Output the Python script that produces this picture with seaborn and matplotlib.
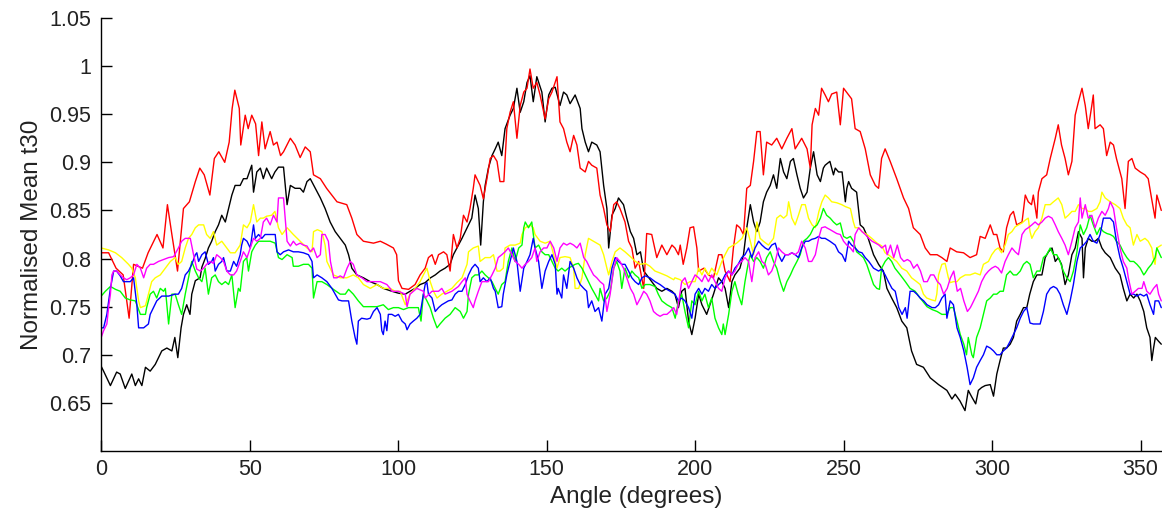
import matplotlib
matplotlib.use("Agg")
import matplotlib.pyplot as plt
import seaborn as sns
import pandas as pd

# (angle in degrees, normalised mean t30)
red_pts = [(0,0.806),(2.5,0.806),(5,0.790),(7.4,0.783),(9.4,0.738),(10.9,0.794),(13.9,0.790),(15.8,0.806),(18.8,0.825),(20.8,0.811),(22.3,0.856),(23.8,0.825),(25.7,0.787),(27.7,0.852),(29.7,0.859),(31.7,0.880),(33.2,0.894),(34.7,0.887),(36.6,0.866),(38.1,0.904),(39.6,0.911),(41.6,0.900),(43.1,0.921),(44.1,0.956),(45,0.975),(46.5,0.956),(47,0.918),(48.5,0.949),(49.5,0.935),(50.7,0.949),(52,0.940),(53,0.907),(54.1,0.942),(55.2,0.914),(56.9,0.932),(58,0.918),(59.2,0.921),(60.4,0.907),(61.4,0.911),(63.7,0.925),(65.3,0.918),(67,0.905),(68.7,0.916),(70.4,0.911),(71.5,0.887),(73.8,0.883),(75.9,0.873),(79.4,0.859),(82.7,0.856),(84.4,0.842),(86.1,0.825),(88.3,0.818),(91.7,0.816),(94,0.818),(96,0.815),(98.4,0.811),(99.5,0.804),(100.1,0.777),(101.3,0.769),(103.5,0.768),(105.7,0.773),(107.4,0.783),(109.1,0.790),(110.2,0.801),(111.4,0.804),(112.5,0.794),(113.6,0.804),(115.3,0.807),(116.4,0.804),(117.5,0.787),(118.6,0.825),(119.8,0.811),(120.9,0.821),(122,0.845),(123.2,0.838),(124.2,0.852),(125.3,0.873),(125.9,0.887),(127.6,0.876),(128.7,0.862),(129.9,0.883),(131,0.904),(132.1,0.907),(133.3,0.901),(134.3,0.880),(135.6,0.880),(136.6,0.935),(137.7,0.952),(138.8,0.963),(140,0.925),(141.1,0.959),(142.3,0.973),(143.4,0.977),(144.4,0.997),(145.5,0.977),(146.7,0.983),(147.8,0.970),(149.5,0.945),(150.7,0.966),(151.8,0.973),(153.5,0.989),(154.5,0.942),(155.7,0.935),(156.8,0.921),(157.9,0.911),(159.1,0.928),(160.2,0.918),(161.3,0.894),(163,0.890),(164.1,0.901),(165.2,0.897),(166.9,0.894),(168,0.866),(169.2,0.852),(170.3,0.835),(171.4,0.828),(172.6,0.856),(173.6,0.859),(174.7,0.852),(176.4,0.838),(177.6,0.818),(178.7,0.811),(179.8,0.790),(181,0.797),(182.7,0.769),(183.7,0.826),(185.4,0.825),(187.1,0.801),(188.8,0.814),(190.5,0.804),(192.2,0.814),(193.2,0.811),(194.4,0.804),(195,0.814),(196,0.794),(197.2,0.811),(198.3,0.832),(199.5,0.833),(200.6,0.811),(201.2,0.787),(203,0.790),(204.5,0.783),(206.2,0.780),(207.9,0.804),(209,0.804),(210.1,0.787),(211.8,0.776),(212.9,0.811),(214,0.835),(215.1,0.832),(216.3,0.825),(217.4,0.873),(218.6,0.876),(219.7,0.901),(220.8,0.932),(221.9,0.932),(223,0.887),(224.1,0.921),(225.8,0.918),(227.5,0.925),(229.2,0.914),(230.9,0.925),(232.6,0.935),(233.7,0.914),(235.9,0.925),(237.7,0.914),(238.8,0.894),(239.4,0.939),(240.5,0.956),(241.6,0.949),(242.6,0.977),(243.8,0.970),(244.9,0.963),(246,0.971),(247.7,0.973),(248.9,0.939),(250,0.977),(251.7,0.970),(252.7,0.966),(253.9,0.935),(255.6,0.932),(257.3,0.914),(259,0.887),(260.7,0.876),(261.8,0.873),(262.8,0.904),(264,0.914),(265.7,0.901),(267.9,0.883),(270.2,0.863),(271.9,0.852),(273.5,0.832),(275.8,0.825),(277.5,0.811),(279.2,0.804),(281.5,0.804),(283.1,0.801),(284.8,0.797),(285.9,0.811),(288.1,0.807),(290.4,0.806),(292.6,0.801),(294.8,0.804),(296,0.823),(297.7,0.821),(299.4,0.835),(300.5,0.825),(301.6,0.825),(302.7,0.811),(303.8,0.807),(304.9,0.832),(306.1,0.845),(307.2,0.849),(308.3,0.835),(310.1,0.838),(311.2,0.866),(312.2,0.859),(313.3,0.856),(313.9,0.866),(315.1,0.842),(315.6,0.869),(316.8,0.883),(318.4,0.887),(319.6,0.904),(321.3,0.925),(322.3,0.939),(323.4,0.918),(324.6,0.904),(325.7,0.887),(326.9,0.901),(328,0.949),(329.1,0.963),(330.3,0.977),(331.4,0.959),(332.4,0.935),(333.6,0.959),(334.1,0.970),(334.7,0.935),(336.4,0.939),(337.5,0.935),(338.6,0.907),(339.8,0.921),(340.9,0.918),(341.9,0.904),(343.7,0.883),(344.8,0.852),(345.9,0.901),(347.1,0.904),(348.2,0.894),(349.9,0.890),(351.5,0.887),(352.6,0.883),(353.7,0.863),(354.9,0.842),(355.5,0.866),(357,0.850)]

black_pts = [(0,0.688),(0.8,0.683),(3.1,0.668),(5.2,0.682),(6.4,0.680),(8.1,0.665),(10.3,0.680),(11.5,0.668),(12.6,0.675),(13.7,0.668),(14.9,0.687),(16.5,0.683),(18.2,0.690),(20.4,0.704),(22.1,0.707),(23.8,0.704),(24.8,0.718),(25.8,0.697),(26.9,0.728),(27.7,0.742),(28.8,0.752),(29.9,0.742),(30.5,0.763),(31.7,0.777),(33.3,0.780),(33.9,0.791),(35,0.800),(36.1,0.811),(37.2,0.818),(38.4,0.828),(39.5,0.835),(40.6,0.845),(41.8,0.838),(42.9,0.852),(44,0.866),(45.1,0.876),(46.8,0.876),(47.9,0.883),(49.1,0.883),(50.7,0.897),(51.3,0.869),(52.4,0.890),(53.6,0.894),(54.6,0.883),(55.7,0.894),(57.4,0.883),(58.5,0.890),(59.7,0.895),(61.4,0.895),(62.6,0.856),(63.7,0.876),(65.3,0.873),(67,0.873),(68.1,0.869),(69.3,0.880),(70.4,0.883),(72.1,0.873),(73.8,0.863),(75.4,0.852),(77.1,0.838),(78.8,0.828),(80.5,0.821),(82.2,0.814),(83.3,0.804),(84.4,0.790),(86.1,0.783),(88.3,0.780),(90.6,0.776),(92.9,0.773),(95,0.769),(97.9,0.766),(100.1,0.764),(102.4,0.763),(104,0.766),(105.7,0.769),(107.4,0.773),(109.1,0.775),(110.9,0.780),(112.5,0.783),(114.1,0.787),(115.8,0.790),(117.5,0.794),(118.6,0.804),(119.8,0.811),(121.5,0.821),(122.6,0.828),(123.7,0.835),(124.8,0.842),(125.9,0.866),(127,0.852),(127.8,0.814),(128.7,0.859),(129.3,0.876),(130.4,0.894),(131.6,0.907),(132.7,0.914),(133.7,0.921),(134.9,0.907),(136,0.935),(137.7,0.949),(138.8,0.956),(140,0.977),(141.1,0.952),(142.3,0.963),(143.4,0.983),(144.4,0.990),(145.5,0.963),(146.7,0.989),(148.4,0.973),(149.5,0.942),(150.7,0.970),(151.8,0.977),(152.9,0.978),(154.5,0.959),(155.7,0.973),(156.8,0.970),(157.9,0.961),(159.6,0.970),(161.3,0.956),(161.9,0.935),(163,0.921),(164.1,0.911),(165.2,0.921),(166.9,0.918),(168,0.911),(169.2,0.876),(170.3,0.852),(170.9,0.811),(172,0.845),(173.1,0.852),(174.2,0.863),(175.9,0.856),(177,0.842),(178.2,0.828),(179.3,0.821),(180.4,0.804),(181.6,0.807),(182.7,0.787),(183.7,0.783),(185.4,0.776),(187.1,0.769),(188.8,0.766),(190.5,0.769),(192.2,0.766),(193.2,0.763),(194.4,0.749),(195.5,0.766),(196.6,0.769),(197.8,0.735),(198.9,0.721),(200,0.738),(201.2,0.763),(202.3,0.752),(203.9,0.742),(205,0.752),(206.2,0.763),(207.9,0.780),(209,0.776),(210.1,0.769),(211.3,0.749),(212.4,0.776),(213.4,0.783),(215.1,0.790),(216.3,0.804),(217.4,0.832),(218.6,0.856),(219.7,0.838),(220.8,0.828),(221.9,0.838),(223,0.859),(224.1,0.869),(225.3,0.876),(226.4,0.887),(227.5,0.873),(228.7,0.904),(229.8,0.890),(230.9,0.883),(232.1,0.901),(233.1,0.904),(234.3,0.887),(235.4,0.873),(236.5,0.863),(237.7,0.869),(238.8,0.894),(239.9,0.911),(241.1,0.887),(242.2,0.880),(243.2,0.894),(243.8,0.897),(245.4,0.901),(246.6,0.887),(247.2,0.894),(248.3,0.890),(249.5,0.890),(250.6,0.859),(251.1,0.873),(251.7,0.880),(252.7,0.873),(254.4,0.869),(255.6,0.835),(256.7,0.832),(258.3,0.821),(260.1,0.804),(261.8,0.794),(263.4,0.787),(264.6,0.769),(266.2,0.759),(267.9,0.749),(269.6,0.735),(271.3,0.728),(272.9,0.704),(274.6,0.690),(276.9,0.687),(279.2,0.676),(282,0.669),(284.8,0.663),(286.5,0.654),(287.6,0.659),(289.2,0.652),(290.9,0.642),(292,0.663),(293.2,0.656),(294.5,0.649),(295.4,0.663),(296.5,0.666),(297.7,0.668),(299.4,0.669),(300.5,0.657),(301.6,0.680),(302.7,0.694),(303.8,0.707),(304.9,0.707),(306.1,0.711),(307.2,0.718),(308.3,0.735),(309.5,0.742),(310.6,0.749),(311.7,0.749),(312.7,0.763),(313.9,0.776),(315.1,0.783),(316.8,0.783),(317.9,0.801),(319,0.807),(320.2,0.811),(321.3,0.797),(322.3,0.801),(323.4,0.794),(324.6,0.773),(325.7,0.783),(326.9,0.804),(328,0.811),(329.1,0.828),(330.3,0.821),(330.8,0.780),(331.4,0.811),(332.4,0.821),(333.6,0.818),(334.7,0.818),(335.8,0.821),(337,0.811),(338.1,0.806),(339.8,0.801),(341.5,0.790),(343.1,0.783),(344.2,0.769),(345.4,0.756),(346.5,0.763),(347.7,0.759),(348.8,0.763),(349.9,0.756),(351.1,0.745),(352.1,0.728),(353.2,0.718),(353.8,0.694),(354.4,0.707),(355,0.718),(356.1,0.714),(357,0.711)]

yellow_pts = [(0,0.811),(2.5,0.809),(4.8,0.806),(6.9,0.801),(9.2,0.794),(10.3,0.790),(11.5,0.780),(12.6,0.756),(13.2,0.749),(14.9,0.751),(15.9,0.763),(17,0.776),(18.2,0.780),(19.9,0.783),(21.6,0.790),(23.3,0.797),(24.9,0.801),(26,0.794),(27.1,0.797),(28.3,0.811),(29.4,0.821),(30.5,0.825),(31.7,0.832),(32.8,0.835),(34.5,0.835),(35.5,0.825),(36.7,0.821),(37.8,0.828),(38.9,0.814),(40.6,0.818),(42.3,0.811),(43.5,0.806),(45.1,0.806),(46.8,0.814),(47.9,0.835),(49.1,0.832),(50.2,0.838),(51.3,0.856),(52.4,0.838),(53.6,0.842),(54.6,0.842),(55.7,0.844),(57.4,0.845),(58.5,0.849),(59.7,0.832),(60.9,0.825),(62.6,0.832),(64.7,0.825),(67,0.818),(69.3,0.811),(71,0.807),(71.5,0.828),(72.8,0.830),(74.3,0.828),(75.4,0.814),(76,0.797),(77.1,0.790),(78.2,0.783),(80.5,0.780),(82.7,0.780),(84.9,0.783),(86.6,0.780),(88.3,0.773),(90.6,0.769),(92.9,0.773),(95,0.769),(97.3,0.769),(99,0.766),(100.7,0.766),(102.4,0.752),(104,0.763),(105.7,0.769),(107.4,0.776),(108.5,0.783),(109.7,0.790),(110.8,0.776),(111.9,0.766),(113.1,0.759),(114.7,0.763),(116.4,0.766),(118.1,0.769),(119.8,0.775),(121.5,0.780),(123.2,0.794),(123.7,0.807),(125.3,0.811),(127,0.813),(127.6,0.797),(129.3,0.801),(131,0.801),(132.1,0.804),(133.3,0.787),(134.3,0.787),(135.4,0.790),(136,0.811),(137.7,0.814),(139.4,0.814),(141.1,0.816),(141.7,0.825),(142.8,0.832),(144.4,0.835),(145.5,0.832),(146.1,0.825),(147.8,0.818),(149.5,0.816),(151.2,0.818),(152.9,0.797),(153.5,0.790),(154.5,0.801),(156.2,0.802),(157.9,0.801),(159.1,0.790),(159.6,0.769),(160.8,0.769),(161.9,0.780),(163,0.804),(164.1,0.821),(165.8,0.818),(166.9,0.816),(168,0.814),(169.2,0.804),(170.3,0.790),(170.9,0.783),(172,0.797),(173.1,0.807),(174.7,0.811),(176.4,0.807),(178.2,0.802),(179.9,0.797),(181.6,0.794),(183.2,0.795),(184.8,0.792),(186.5,0.787),(188.2,0.785),(190.5,0.782),(192.8,0.778),(193.2,0.780),(195,0.778),(196.6,0.773),(198.3,0.776),(200,0.776),(201.2,0.790),(202.3,0.783),(203.3,0.790),(204.5,0.783),(205.6,0.790),(207.3,0.783),(209,0.797),(210.1,0.804),(211.3,0.811),(212.9,0.814),(214,0.816),(215.8,0.821),(217.4,0.832),(218.6,0.818),(219.7,0.804),(220.8,0.838),(221.9,0.821),(223,0.818),(224.7,0.814),(226.4,0.821),(227.5,0.842),(228.7,0.845),(229.8,0.842),(230.9,0.845),(231.5,0.859),(232.6,0.842),(233.7,0.835),(234.8,0.845),(235.9,0.856),(237.1,0.856),(238.2,0.842),(239.4,0.835),(240.5,0.832),(241.7,0.849),(242.7,0.859),(243.8,0.866),(244.9,0.863),(246,0.859),(247.7,0.858),(249.4,0.856),(250.6,0.854),(252.3,0.852),(253.3,0.838),(253.9,0.832),(255.1,0.832),(256.2,0.828),(257.9,0.825),(259.5,0.821),(261.3,0.816),(262.9,0.813),(264,0.806),(265.1,0.804),(266.3,0.801),(267.9,0.797),(269.6,0.790),(271.3,0.787),(272.9,0.780),(274.6,0.776),(275.8,0.773),(276.9,0.763),(278,0.759),(279.7,0.757),(280.9,0.756),(281.4,0.763),(282,0.783),(283.1,0.794),(284.2,0.795),(285.3,0.780),(285.9,0.775),(287,0.776),(288.2,0.776),(289.3,0.780),(291,0.783),(292.6,0.783),(294.3,0.785),(296,0.783),(297.1,0.794),(298.8,0.797),(299.9,0.804),(301.1,0.809),(302.1,0.811),(303.2,0.806),(304.4,0.814),(305.5,0.825),(306.7,0.828),(307.8,0.833),(308.9,0.835),(310.1,0.837),(311.2,0.840),(312.2,0.842),(312.8,0.828),(313.4,0.821),(314.5,0.828),(315.6,0.832),(316.8,0.842),(317.9,0.856),(319.6,0.856),(320.7,0.859),(322.3,0.863),(323.5,0.856),(324.6,0.842),(325.7,0.845),(326.9,0.849),(328,0.849),(329.1,0.856),(330.3,0.852),(331.4,0.852),(332.4,0.849),(333.6,0.849),(335.3,0.852),(336.4,0.859),(337,0.869),(338.1,0.863),(339.8,0.859),(341.5,0.856),(343.1,0.852),(344.2,0.842),(345.4,0.835),(346.5,0.832),(347.6,0.814),(348.8,0.825),(349.9,0.818),(351.5,0.821),(352.6,0.818),(353.8,0.811),(354.3,0.801),(354.9,0.794),(355.5,0.811),(357,0.814)]

green_pts = [(0,0.761),(1.4,0.766),(3.1,0.771),(4.8,0.768),(6.4,0.766),(8.1,0.759),(9.8,0.757),(11.5,0.756),(13.2,0.742),(14.9,0.742),(15.3,0.749),(16.5,0.763),(17.6,0.766),(18.7,0.759),(19.9,0.769),(21,0.766),(21.6,0.769),(22.7,0.732),(23.8,0.763),(24.9,0.763),(26,0.752),(27.1,0.742),(28.3,0.763),(29.4,0.780),(30.5,0.797),(31.7,0.787),(32.8,0.780),(33.9,0.776),(35,0.790),(36.1,0.763),(37.2,0.780),(38.4,0.783),(39.5,0.776),(40.6,0.773),(41.8,0.776),(42.9,0.773),(44,0.783),(45.1,0.749),(46.2,0.769),(46.8,0.766),(47.9,0.797),(49,0.801),(49.6,0.787),(50.7,0.807),(51.9,0.814),(53,0.818),(54.6,0.818),(56.9,0.818),(58.6,0.816),(59.7,0.801),(60.9,0.799),(62.6,0.804),(64.3,0.801),(64.7,0.792),(66.4,0.792),(68.1,0.794),(69.8,0.794),(71,0.790),(71.5,0.759),(72.7,0.776),(74.3,0.776),(76,0.773),(78.2,0.768),(80.5,0.763),(82.2,0.763),(83.3,0.768),(84.9,0.763),(86.6,0.756),(88.3,0.750),(90.6,0.750),(92.9,0.750),(95,0.752),(96.7,0.747),(98.4,0.749),(100.1,0.749),(101.8,0.747),(103.5,0.749),(105.1,0.749),(106.8,0.749),(107.7,0.735),(108.5,0.763),(109.7,0.756),(110.8,0.749),(111.9,0.738),(113.1,0.728),(114.1,0.732),(115.8,0.738),(117.5,0.742),(119.2,0.749),(120.9,0.745),(122,0.738),(123.2,0.745),(123.7,0.763),(124.8,0.780),(125.9,0.783),(127,0.783),(128.2,0.787),(129.3,0.783),(130.4,0.780),(131.6,0.776),(132.7,0.769),(133.7,0.763),(134.9,0.773),(136,0.776),(137.1,0.797),(138.3,0.811),(139.4,0.797),(140.6,0.811),(141.7,0.814),(142.3,0.832),(142.8,0.838),(143.9,0.832),(145,0.838),(146.1,0.811),(147.3,0.814),(148.4,0.807),(149.5,0.804),(150.7,0.804),(151.8,0.797),(152.9,0.790),(153.9,0.787),(155.1,0.790),(156.2,0.787),(157.3,0.790),(158.5,0.792),(159.6,0.794),(160.7,0.795),(161.9,0.790),(163,0.783),(164.1,0.776),(165.2,0.769),(166.3,0.763),(167.5,0.756),(168,0.769),(169.2,0.756),(170.3,0.759),(171.4,0.766),(172.6,0.790),(173.6,0.797),(174.7,0.787),(175.3,0.769),(176.4,0.790),(177.6,0.780),(178.7,0.787),(179.8,0.783),(181,0.780),(182.1,0.769),(183.2,0.773),(184.8,0.773),(186.5,0.771),(187.6,0.763),(188.8,0.756),(190.5,0.752),(192.2,0.749),(193.3,0.738),(194.4,0.756),(195.5,0.763),(196.6,0.745),(197.8,0.728),(198.9,0.756),(200,0.752),(201.2,0.766),(202.3,0.756),(203.3,0.763),(204.5,0.749),(205.6,0.759),(206.7,0.738),(207.9,0.728),(209,0.721),(209.5,0.732),(210.1,0.721),(211.3,0.742),(212.4,0.766),(213.4,0.776),(214.5,0.763),(215.7,0.752),(216.8,0.776),(218,0.797),(218.6,0.804),(219.7,0.797),(220.8,0.801),(221.9,0.797),(223,0.790),(224.1,0.801),(225.3,0.807),(226.4,0.797),(227.5,0.790),(228.7,0.776),(229.8,0.766),(230.9,0.776),(232.1,0.783),(233.1,0.790),(234.3,0.797),(235.4,0.804),(236.5,0.818),(237.7,0.821),(238.8,0.825),(239.9,0.832),(241.1,0.835),(242.2,0.842),(243.2,0.852),(244.3,0.845),(245.5,0.842),(246.6,0.838),(247.7,0.835),(248.9,0.837),(250,0.823),(251.1,0.821),(252.3,0.823),(253.3,0.818),(254.4,0.807),(255.6,0.804),(256.7,0.801),(257.8,0.794),(259,0.783),(260.1,0.773),(261.2,0.769),(262.1,0.768),(262.8,0.790),(264,0.797),(265.1,0.801),(266.2,0.797),(267.3,0.790),(269.1,0.783),(270.8,0.776),(272.4,0.769),(274.1,0.766),(275.8,0.759),(278.1,0.750),(279.8,0.747),(281.5,0.745),(283.1,0.742),(284.8,0.742),(285.9,0.749),(287,0.749),(288.2,0.735),(289.3,0.721),(290.5,0.711),(291.4,0.700),(292,0.718),(293.2,0.700),(293.7,0.697),(294.8,0.718),(296,0.728),(297.1,0.742),(298.2,0.756),(299.4,0.759),(300.5,0.763),(301.6,0.763),(302.7,0.766),(303.8,0.766),(304.9,0.783),(306.1,0.787),(307.2,0.783),(308.3,0.783),(309.5,0.787),(310.6,0.794),(311.7,0.797),(312.8,0.794),(313.9,0.780),(315.1,0.787),(316.2,0.787),(317.3,0.801),(318.4,0.804),(319.6,0.811),(320.7,0.804),(321.8,0.804),(322.9,0.797),(324,0.787),(325.2,0.780),(326.3,0.776),(327.4,0.787),(328.6,0.807),(329.7,0.835),(330.8,0.825),(331.9,0.832),(333,0.845),(334.1,0.835),(335.3,0.825),(336.4,0.832),(337.5,0.828),(338.7,0.826),(339.8,0.825),(340.9,0.823),(341.9,0.818),(343.1,0.814),(344.2,0.807),(345.4,0.801),(346.5,0.797),(347.7,0.797),(348.8,0.794),(349.9,0.790),(351.1,0.783),(351.6,0.785),(352.6,0.790),(353.7,0.794),(354.9,0.801),(355.5,0.811),(357,0.801)]

blue_pts = [(0,0.728),(0.8,0.728),(1.9,0.742),(3.1,0.769),(4.2,0.787),(5.2,0.787),(6.4,0.782),(7.5,0.776),(8.6,0.776),(9.8,0.776),(10.9,0.780),(12,0.752),(12.6,0.728),(14.3,0.728),(15.9,0.732),(16.5,0.742),(17.6,0.749),(18.7,0.756),(20.4,0.761),(22.7,0.761),(24.9,0.763),(26,0.763),(27.1,0.769),(28.3,0.783),(29.4,0.787),(30.5,0.794),(31.7,0.804),(32.2,0.806),(32.8,0.797),(33.9,0.804),(35,0.807),(36.1,0.794),(37.2,0.797),(37.8,0.801),(38.4,0.787),(39.5,0.794),(40.6,0.797),(41.2,0.801),(42.3,0.787),(43.5,0.787),(44.6,0.797),(45.6,0.792),(46.8,0.804),(47.3,0.814),(47.9,0.821),(49.1,0.818),(50.2,0.811),(51.3,0.835),(51.9,0.821),(53,0.825),(54.1,0.821),(55.2,0.825),(56.9,0.825),(58.6,0.825),(59.2,0.807),(60.3,0.804),(61.4,0.807),(63.1,0.809),(64.7,0.807),(66.4,0.807),(68.1,0.806),(69.8,0.804),(71,0.797),(71.5,0.780),(72.7,0.783),(74.3,0.780),(76,0.776),(77.7,0.769),(78.8,0.763),(79.9,0.757),(81.1,0.756),(82.2,0.756),(83.3,0.756),(84.4,0.735),(85.5,0.718),(86.1,0.711),(86.6,0.735),(87.7,0.738),(89.5,0.737),(90.6,0.738),(91.7,0.745),(92.9,0.749),(94,0.742),(94.5,0.725),(95,0.721),(95.6,0.735),(96.2,0.725),(96.7,0.742),(97.9,0.742),(99,0.740),(100.1,0.742),(101.3,0.735),(102.4,0.732),(103,0.726),(104,0.732),(105.1,0.735),(106.3,0.738),(107.4,0.742),(108.5,0.763),(109.1,0.773),(109.7,0.775),(110.2,0.763),(111.4,0.759),(112.5,0.745),(113.6,0.749),(114.7,0.752),(115.8,0.754),(116.9,0.756),(118.1,0.757),(119.2,0.763),(120.3,0.766),(121.5,0.766),(122.6,0.773),(123.7,0.783),(124.8,0.790),(125.9,0.794),(127,0.790),(127.6,0.776),(128.7,0.780),(129.9,0.776),(131,0.780),(132.1,0.769),(132.7,0.766),(133.7,0.749),(134.9,0.750),(135.4,0.763),(136.6,0.783),(137.7,0.797),(138.8,0.811),(140,0.797),(141.1,0.766),(142.3,0.790),(143.4,0.797),(144.4,0.804),(145.5,0.821),(146.1,0.811),(147.3,0.797),(148.4,0.769),(149.5,0.787),(150.7,0.797),(151.8,0.804),(152.9,0.794),(153.5,0.763),(153.9,0.769),(155.1,0.759),(155.7,0.783),(156.8,0.769),(157.9,0.797),(159.1,0.790),(160.2,0.780),(161.3,0.773),(162.5,0.769),(163.5,0.766),(164.1,0.749),(165.2,0.756),(166.3,0.745),(167.5,0.749),(168.6,0.735),(169.7,0.763),(170.9,0.769),(172,0.790),(173.1,0.801),(174.2,0.797),(175.3,0.794),(176.4,0.794),(177.6,0.787),(178.7,0.780),(179.8,0.776),(181,0.773),(182.1,0.780),(183.2,0.782),(184.8,0.780),(186.5,0.776),(188.2,0.773),(189.9,0.769),(191.6,0.766),(193.2,0.763),(194.4,0.756),(195.5,0.759),(196.6,0.756),(197.8,0.749),(198.9,0.738),(200,0.763),(201.2,0.769),(202.3,0.763),(203.3,0.769),(204.5,0.766),(205.6,0.773),(206.7,0.769),(207.9,0.773),(209,0.776),(210.1,0.783),(211.3,0.787),(212.4,0.783),(213.4,0.790),(214.5,0.794),(215.7,0.801),(216.8,0.804),(218,0.811),(219.1,0.801),(220.2,0.811),(221.4,0.818),(222.5,0.814),(223.6,0.811),(224.7,0.809),(225.8,0.814),(227,0.816),(228.1,0.804),(229.2,0.797),(230.4,0.804),(231.5,0.804),(232.6,0.806),(233.7,0.804),(234.8,0.801),(235.9,0.811),(237.1,0.818),(238.2,0.818),(239.3,0.820),(240.5,0.821),(241.6,0.823),(242.6,0.821),(243.8,0.821),(245.4,0.818),(247.2,0.814),(248.3,0.807),(249.5,0.804),(250.6,0.797),(251.7,0.818),(252.7,0.814),(253.9,0.811),(255.1,0.807),(256.2,0.806),(257.3,0.801),(258.5,0.797),(260.1,0.790),(261.8,0.787),(262.8,0.789),(264,0.783),(265.1,0.776),(266.3,0.769),(267.4,0.766),(268.6,0.749),(269.7,0.742),(270.8,0.749),(271.4,0.738),(272.4,0.766),(273.6,0.766),(274.7,0.763),(275.8,0.759),(277,0.756),(278.1,0.752),(279.8,0.749),(280.9,0.749),(282,0.752),(283.1,0.759),(284.2,0.763),(284.8,0.738),(285.9,0.756),(287,0.752),(288.2,0.728),(289.3,0.718),(290.5,0.704),(291.6,0.687),(292.6,0.669),(293.7,0.676),(294.8,0.687),(296,0.694),(297.1,0.700),(298.2,0.709),(299.4,0.707),(300.5,0.704),(301.6,0.700),(302.7,0.700),(303.8,0.704),(304.9,0.707),(306.1,0.714),(307.2,0.721),(308.3,0.728),(309.5,0.738),(310.6,0.745),(311.7,0.749),(312.8,0.733),(313.9,0.732),(315.1,0.732),(316.2,0.732),(317.3,0.745),(318.4,0.763),(319.6,0.769),(320.7,0.771),(321.8,0.769),(322.9,0.763),(324,0.752),(325.2,0.742),(326.3,0.756),(327.4,0.773),(328.6,0.797),(329.7,0.811),(330.8,0.814),(331.9,0.818),(333,0.825),(334.1,0.818),(335.3,0.816),(336.4,0.825),(337.5,0.842),(338.7,0.842),(339.8,0.842),(340.9,0.838),(341.9,0.818),(343.1,0.801),(344.2,0.790),(345.4,0.776),(346.5,0.763),(347.7,0.763),(348.8,0.761),(349.9,0.763),(351.1,0.761),(352.1,0.763),(353.2,0.752),(354.4,0.742),(354.9,0.756),(356.1,0.756),(357,0.749)]

magenta_pts = [(0,0.718),(0.8,0.725),(1.9,0.732),(2.5,0.749),(3.1,0.763),(3.6,0.783),(4.2,0.787),(5.2,0.787),(6.4,0.783),(7.5,0.780),(8.6,0.778),(9.8,0.780),(10.9,0.783),(12,0.794),(13.2,0.790),(14.3,0.780),(15.3,0.790),(16.5,0.794),(17.6,0.794),(19.3,0.797),(21,0.799),(22.7,0.801),(24.4,0.802),(26,0.811),(27.1,0.818),(28.3,0.821),(30,0.821),(31.1,0.804),(32.2,0.789),(33.4,0.787),(34.5,0.790),(35.5,0.794),(36.7,0.797),(37.8,0.795),(38.9,0.804),(40.1,0.801),(41.2,0.797),(42.3,0.787),(43.5,0.783),(44.6,0.783),(45.6,0.787),(46.8,0.797),(47.9,0.807),(49.1,0.801),(50.2,0.811),(51.3,0.821),(52.4,0.818),(53.6,0.821),(54.6,0.838),(55.7,0.842),(56.9,0.835),(58,0.845),(59.2,0.838),(59.7,0.863),(61.4,0.863),(62.6,0.818),(63.7,0.813),(64.7,0.818),(65.7,0.814),(67,0.816),(68.1,0.814),(69.3,0.813),(70.4,0.807),(71.5,0.811),(72.7,0.801),(73.8,0.804),(74.3,0.825),(75.4,0.825),(76.5,0.818),(77.2,0.797),(78.3,0.780),(79.4,0.780),(80.5,0.782),(81.6,0.780),(82.8,0.790),(83.9,0.797),(84.9,0.794),(86.1,0.783),(87.8,0.780),(89.5,0.776),(91.8,0.776),(94,0.776),(96.2,0.773),(97.3,0.769),(97.9,0.766),(100.1,0.766),(102.4,0.763),(103,0.750),(104,0.763),(106.3,0.769),(108.5,0.766),(109.1,0.759),(111.4,0.766),(113.6,0.766),(114.7,0.769),(115.8,0.763),(118.1,0.766),(120.3,0.771),(121.5,0.776),(122.6,0.780),(123.2,0.763),(124.2,0.756),(125.3,0.749),(125.9,0.756),(127,0.766),(128.2,0.776),(130.4,0.776),(131.6,0.783),(132.7,0.790),(133.7,0.801),(134.9,0.804),(136,0.807),(137.1,0.811),(138.3,0.804),(139.4,0.797),(140.6,0.794),(141.7,0.790),(142.8,0.794),(143.9,0.797),(145,0.801),(146.1,0.811),(146.7,0.797),(147.8,0.807),(149,0.811),(150.1,0.811),(151.2,0.818),(152.4,0.811),(153.5,0.797),(154.5,0.811),(155.7,0.816),(156.8,0.814),(157.9,0.816),(159.1,0.814),(160.2,0.811),(161.3,0.816),(162.5,0.801),(163.5,0.797),(164.6,0.790),(165.8,0.783),(166.9,0.780),(168,0.776),(169.2,0.773),(170.3,0.745),(171.4,0.763),(172.6,0.790),(173.6,0.801),(174.7,0.797),(175.9,0.790),(177,0.780),(178.2,0.769),(179.3,0.763),(180.4,0.752),(181.6,0.759),(182.7,0.766),(183.7,0.763),(184.8,0.756),(186,0.745),(187.1,0.742),(188.2,0.740),(189.4,0.742),(190.5,0.742),(191.6,0.745),(192.8,0.749),(193.8,0.742),(195.5,0.776),(196.6,0.780),(197.8,0.769),(198.9,0.776),(200,0.783),(201.2,0.780),(202.3,0.776),(203.3,0.783),(204.5,0.776),(205.6,0.783),(206.7,0.776),(207.9,0.769),(209,0.766),(210.1,0.780),(211.3,0.787),(212.4,0.783),(213.4,0.787),(214.5,0.794),(215.7,0.797),(216.8,0.801),(218,0.797),(219.1,0.776),(220.2,0.801),(221.4,0.807),(222.5,0.797),(223.6,0.794),(224.7,0.783),(225.8,0.787),(227,0.797),(228.1,0.811),(229.2,0.807),(230.4,0.804),(231.5,0.804),(232.6,0.806),(233.7,0.804),(234.8,0.807),(235.9,0.818),(237.1,0.811),(238.2,0.797),(239.3,0.797),(240.5,0.804),(241.6,0.821),(242.6,0.832),(243.8,0.833),(244.3,0.832),(245.5,0.830),(246.6,0.828),(247.7,0.826),(248.9,0.825),(250,0.818),(251.1,0.814),(252.3,0.811),(253.3,0.807),(253.9,0.825),(255.1,0.832),(256.2,0.828),(257.3,0.825),(258.5,0.821),(259.6,0.818),(260.8,0.816),(261.9,0.814),(262.9,0.811),(264.1,0.814),(264.7,0.804),(265.8,0.814),(266.9,0.801),(268.1,0.814),(269.2,0.801),(270.3,0.797),(271.5,0.799),(272.5,0.797),(273.6,0.790),(274.8,0.794),(275.9,0.787),(277,0.776),(278.2,0.776),(279.3,0.783),(280.4,0.783),(281.6,0.776),(282.6,0.773),(283.7,0.763),(284.9,0.769),(286,0.780),(287.1,0.787),(288.3,0.766),(289.4,0.769),(290.5,0.756),(291.7,0.745),(292.7,0.749),(293.2,0.752),(294.3,0.759),(295.4,0.766),(296.5,0.776),(297.7,0.783),(298.8,0.787),(299.9,0.790),(301.1,0.792),(302.1,0.790),(303.2,0.785),(304.4,0.797),(305.5,0.804),(306.7,0.811),(307.8,0.807),(308.9,0.804),(310.1,0.825),(311.2,0.830),(312.2,0.832),(313.4,0.835),(314.5,0.838),(315.6,0.835),(316.8,0.838),(317.9,0.842),(319,0.844),(320.2,0.842),(321.3,0.835),(322.3,0.828),(323.5,0.821),(324.6,0.814),(325.7,0.804),(326.9,0.818),(328,0.832),(329.1,0.838),(329.7,0.863),(330.3,0.842),(331.4,0.856),(332.4,0.842),(333.6,0.845),(334.7,0.832),(335.8,0.842),(337,0.849),(338.1,0.845),(339.2,0.852),(339.8,0.859),(340.9,0.852),(341.9,0.832),(343.1,0.811),(344.2,0.797),(345.4,0.790),(345.9,0.780),(347.1,0.763),(348.2,0.766),(349.3,0.769),(350.5,0.769),(351.1,0.776),(352.1,0.766),(353.2,0.763),(354.4,0.769),(355.5,0.773),(356.1,0.763),(357,0.756)]

series_names = ["black", "red", "yellow", "green", "blue", "magenta"]
series_points = [black_pts, red_pts, yellow_pts, green_pts, blue_pts, magenta_pts]
series_colors = ["#000000", "#ff0000", "#ffff00", "#00ff00", "#0000ff", "#ff00ff"]

x_ticks = [0, 50, 100, 150, 200, 250, 300, 350]
x_tick_labels = ["0", "50", "100", "150", "200", "250", "300", "350"]
y_ticks = [0.65, 0.7, 0.75, 0.8, 0.85, 0.9, 0.95, 1.0, 1.05]
y_tick_labels = ["0.65", "0.7", "0.75", "0.8", "0.85", "0.9", "0.95", "1", "1.05"]

sns.set_style("ticks", {"xtick.direction": "in", "ytick.direction": "in",
                        "xtick.bottom": True, "ytick.left": True})
plt.rcParams['font.family'] = ['Liberation Sans', 'DejaVu Sans']

fig = plt.figure(figsize=(11.62, 5.16), dpi=100)
# the x axis runs to 360 just past the right edge of the picture, as in the original
ax = fig.add_axes([101.2 / 1162, 65 / 516, 1069 / 1162, 433 / 516])

for name, pts, color in zip(series_names, series_points, series_colors):
    df = pd.DataFrame(pts, columns=["angle", "t30"])
    sns.lineplot(data=df, x="angle", y="t30", color=color, linewidth=1.0,
                 estimator=None, sort=False, ax=ax)

ax.set_xlim(0, 360)
ax.set_ylim(0.6, 1.05)
ax.set_xticks(x_ticks)
ax.set_xticklabels(x_tick_labels)
ax.set_yticks(y_ticks)
ax.set_yticklabels(y_tick_labels)
ax.tick_params(axis="both", which="major", direction="in", length=8, width=1.0,
               color="#000000", labelsize=15.5, labelcolor="#222222")
ax.tick_params(axis="x", pad=6)
ax.tick_params(axis="y", pad=7)
for side in ["top", "right"]:
    ax.spines[side].set_visible(False)
for side in ["left", "bottom"]:
    ax.spines[side].set_color("#000000")
    ax.spines[side].set_linewidth(1.0)
ax.set_xlabel("Angle (degrees)", fontsize=17.5, color="#222222", labelpad=4)
ax.set_ylabel("Normalised Mean t30", fontsize=17.5, color="#222222", labelpad=5)
ax.grid(False)

fig.savefig("out.png", dpi=100)
